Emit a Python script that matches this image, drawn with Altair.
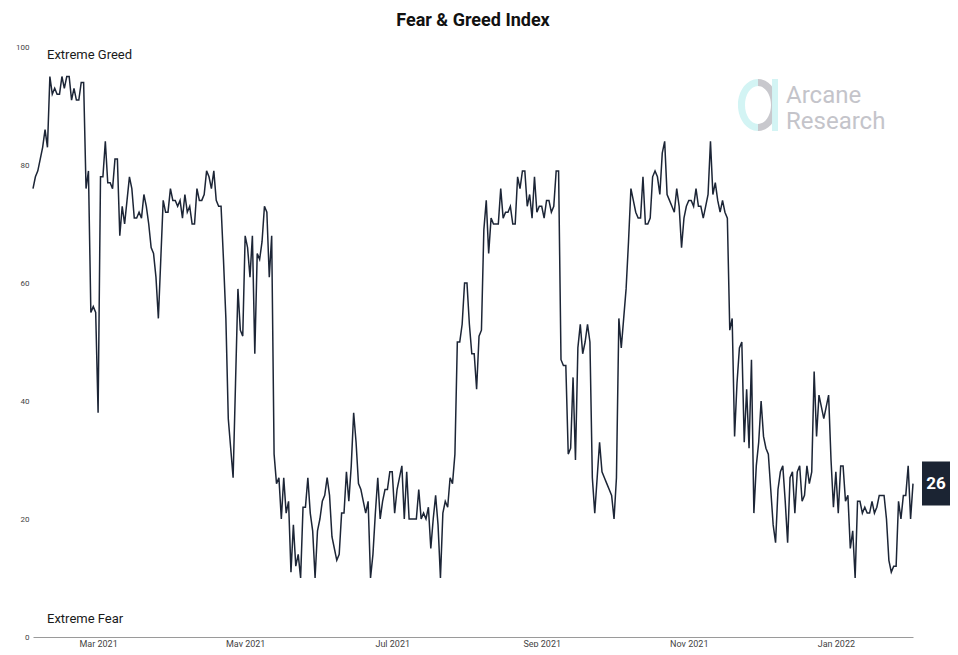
import altair as alt
import pandas as pd

# ---------------- data ----------------
start_date = "2021-02-02"          # first daily observation
fg_values = [
    # Feb 2021
    76, 78, 79, 81, 83, 86, 83, 95, 92, 93, 92, 92, 95, 93, 95, 95, 91, 93, 91, 91, 94, 94, 76, 79, 55, 56, 55, 38,
    # Mar 2021
    78, 78, 84, 77, 77, 76, 81, 81, 68, 73, 70, 74, 78, 76, 71, 71, 72,
    71, 75, 73, 70, 66, 65, 61, 54, 64, 74, 72, 72, 76, 74,
    # Apr 2021
    74, 73, 74, 71, 75, 72, 73, 70, 70, 76, 74, 74, 75, 79, 78, 76, 79, 74, 73, 73, 64, 54, 37, 32, 27,
    43, 59, 52, 51,
    # May 2021
    68, 66, 61, 68, 48, 65, 64, 67, 73, 72, 61, 68, 31, 26, 27, 20, 27, 21, 23, 11, 19, 12, 14, 10, 22,
    22, 27, 21, 18, 10, 18,
    # Jun 2021
    20, 23, 24, 27, 24, 17, 15, 13, 14, 21, 21, 28, 23, 29, 38, 33, 26, 25, 23, 21, 23, 10, 14, 21, 27,
    20, 23, 25, 25, 28,
    # Jul 2021
    28, 21, 25, 27, 29, 20, 28, 20, 20, 20, 20, 25, 20, 21, 20, 22, 15, 20, 24, 19, 10, 21, 23, 22, 27,
    26, 31, 50, 50, 53, 60,
    # Aug 2021
    60, 53, 48, 48, 42, 51, 52, 69, 74, 65, 71, 70, 70, 70, 76, 71, 72, 72, 73, 70, 70, 78, 76, 79, 79,
    73, 75, 71, 78, 72, 73,
    # Sep 2021
    73, 71, 74, 74, 72, 73, 79, 79, 47, 46, 46, 31, 32, 44, 30, 49, 53, 48, 50, 53, 50, 27, 21, 27, 33,
    28, 27, 26, 25, 24,
    # Oct 2021
    20, 27, 54, 49, 54, 59, 67, 76, 74, 72, 71, 71, 78, 70, 70, 71, 78, 79, 78, 75, 82, 84, 75, 74, 73,
    72, 76, 73, 66, 71, 73,
    # Nov 2021
    74, 74, 73, 76, 73, 73, 71, 73, 75, 84, 75, 77, 74, 72, 74, 72, 71, 52, 54, 34, 43, 49, 50, 33, 42,
    32, 47, 21, 29, 33,
    # Dec 2021
    40, 34, 32, 31, 25, 19, 16, 25, 28, 29, 23, 16, 27, 28, 21, 28, 29, 23, 24, 29, 26, 28, 45, 34, 41,
    39, 37, 39, 41, 30, 22,
    # Jan 2022
    28, 21, 29, 29, 23, 24, 15, 18, 10, 23, 23, 21, 22, 21, 21, 23, 21, 22, 24, 24, 24, 20, 13, 11, 12,
    12, 23, 20, 24, 24, 29,
    # Feb 2022
    20, 26,
]
x_tick_dates = ["2021-03-01", "2021-05-01", "2021-07-01", "2021-09-01", "2021-11-01", "2022-01-01"]
y_ticks = [0, 20, 40, 60, 80, 100]
title_text = "Fear & Greed Index"
label_top = "Extreme Greed"
label_bottom = "Extreme Fear"
logo_lines = ["Arcane", "Research"]

# ---------------- tables ----------------
dates = pd.date_range(start_date, periods=len(fg_values), freq="D")
df = pd.DataFrame({"date": dates.strftime("%Y-%m-%d"), "value": fg_values})
last = df.tail(1)


def dt(ts):
    return alt.DateTime(year=int(ts.year), month=int(ts.month), date=int(ts.day), utc=True)


x_scale = alt.Scale(type="utc", domain=[dt(dates[0]), dt(dates[-1])])
y_scale = alt.Scale(domain=[0, 100])

FONT = "Roboto"
LINE_COLOR = "#1c2536"
PLOT_W, PLOT_H = 880, 590

line = alt.Chart(df).mark_line(color=LINE_COLOR, strokeWidth=1.5).encode(
    x=alt.X(
        "date:T",
        scale=x_scale,
        axis=alt.Axis(
            title=None,
            values=[dt(d) for d in pd.to_datetime(x_tick_dates)],
            format="%b %Y",
            ticks=False,
            grid=False,
            domainColor="#9a9a9a",
            domainWidth=1,
            labelPadding=2,
            labelFontSize=9,
            labelColor="#444444",
            labelFont=FONT,
        ),
    ),
    y=alt.Y(
        "value:Q",
        scale=y_scale,
        axis=alt.Axis(
            title=None,
            values=y_ticks,
            ticks=False,
            grid=False,
            domain=False,
            labelPadding=4,
            labelFontSize=8,
            labelColor="#444444",
            labelFont=FONT,
        ),
    ),
)

one = pd.DataFrame({"k": [0]})

greed = alt.Chart(one).mark_text(
    text=label_top, align="left", baseline="middle", font=FONT, fontSize=13, color="#1a1a1a"
).encode(x=alt.value(14), y=alt.datum(98.6))

fear = alt.Chart(one).mark_text(
    text=label_bottom, align="left", baseline="middle", font=FONT, fontSize=13, color="#1a1a1a"
).encode(x=alt.value(14), y=alt.datum(3.0))

# last-value badge (drawn just right of the plot area)
badge = alt.Chart(last).mark_rect(height=44, color="#1b2433").encode(
    x=alt.value(PLOT_W + 9), x2=alt.value(PLOT_W + 40), y="value:Q"
)
badge_text = alt.Chart(last).mark_text(
    color="white", font=FONT, fontSize=17, fontWeight="bold", baseline="middle", align="center"
).encode(x=alt.value(PLOT_W + 23), y="value:Q", text="value:Q")

# watermark logo
left_half = "M 0 -1 A 0.77 1 0 0 0 0 1 L 0 0.73 A 0.5 0.73 0 0 1 0 -0.73 Z"
right_half = "M 0 -1 A 0.77 1 0 0 1 0 1 L 0 0.73 A 0.5 0.73 0 0 0 0 -0.73 Z"
bar = "M 0.54 -1 L 0.77 -1 L 0.77 1 L 0.54 1 Z"


def logo_piece(path, color):
    return alt.Chart(one).mark_point(
        shape=path, filled=True, size=2704, color=color, opacity=1, strokeWidth=0
    ).encode(x=alt.value(725), y=alt.value(58))


logo_text1 = alt.Chart(one).mark_text(
    text=logo_lines[0], align="left", baseline="alphabetic", font=FONT, fontSize=24, color="#c4c4ca"
).encode(x=alt.value(753), y=alt.value(56))
logo_text2 = alt.Chart(one).mark_text(
    text=logo_lines[1], align="left", baseline="alphabetic", font=FONT, fontSize=24, color="#c4c4ca"
).encode(x=alt.value(753), y=alt.value(82))

chart = alt.layer(
    logo_piece(left_half, "#d3f4f4"),
    logo_piece(right_half, "#c8c8cd"),
    logo_piece(bar, "#d3f4f4"),
    logo_text1,
    logo_text2,
    line,
    greed,
    fear,
    badge,
    badge_text,
).properties(
    width=PLOT_W,
    height=PLOT_H,
    autosize=alt.AutoSizeParams(type="none"),
    padding={"left": 25, "top": 39, "right": 37, "bottom": 10},
    title=alt.TitleParams(
        text=title_text,
        font=FONT,
        fontSize=18,
        fontWeight="bold",
        color="#111111",
        anchor="middle",
        offset=13,
    ),
).configure_view(stroke=None)

chart.save("out.html", embed_options={"renderer": "svg", "actions": False})
